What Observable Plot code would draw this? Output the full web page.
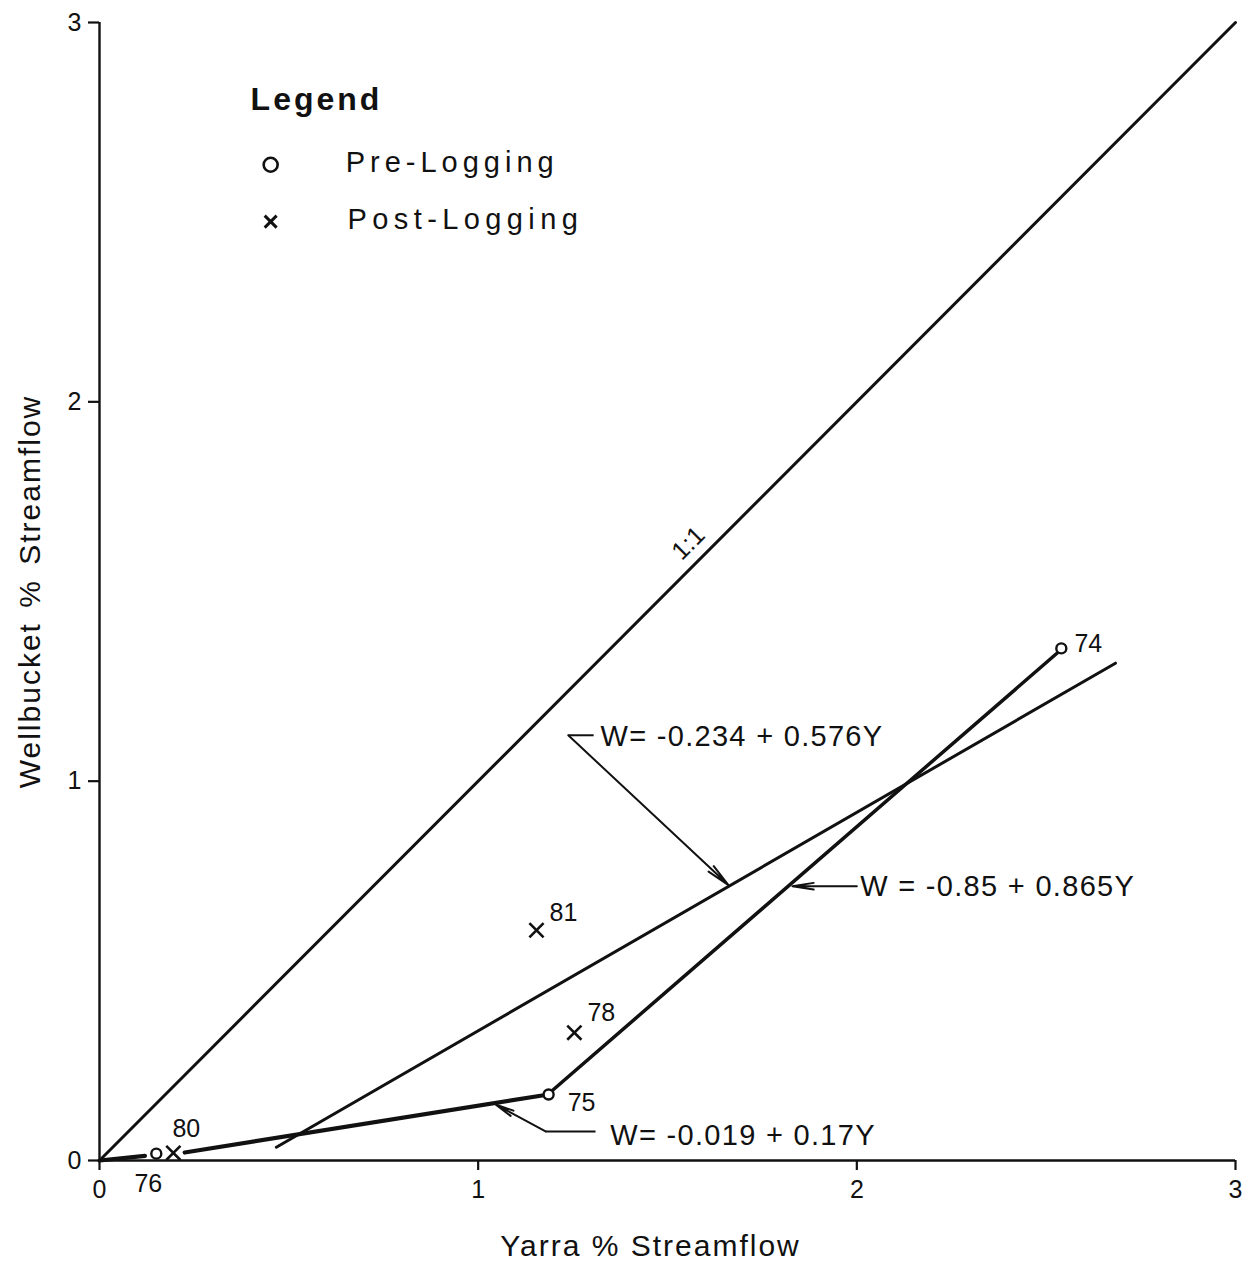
<!DOCTYPE html>
<html>
<head>
<meta charset="utf-8">
<script src="https://cdn.jsdelivr.net/npm/d3@7"></script>
<script src="https://cdn.jsdelivr.net/npm/@observablehq/plot@0.6"></script>
<style>
  html, body { margin: 0; padding: 0; background: #fff; }
  svg { display: block; }
</style>
</head>
<body>
<div id="chart"></div>
<script>
// ---- data ----
const years      = ["76", "80", "81", "78", "75", "74"];
const yarra      = [0.15, 0.195, 1.154, 1.254, 1.186, 2.54];
const wellbucket = [0.018, 0.02, 0.607, 0.337, 0.174, 1.35];
const period     = ["Pre", "Post", "Post", "Post", "Pre", "Pre"];

// fitted / reference line segments (x1, y1, x2, y2 in data units)
const lineNames = ["1:1", "W=-0.234+0.576Y", "W=-0.85+0.865Y", "W=-0.019+0.17Y a", "W=-0.019+0.17Y b"];
const lineX1 = [0, 0.467, 1.186, 0.0, 0.225];
const lineY1 = [0, 0.035, 0.176, 0.0, 0.021];
const lineX2 = [3, 2.683, 2.54, 0.12, 1.186];
const lineY2 = [3, 1.311, 1.347, 0.012, 0.174];

const eqLabels = ["W= -0.234 + 0.576Y", "W = -0.85 + 0.865Y", "W= -0.019 + 0.17Y"];
const xTicks = [0, 1, 2, 3];
const yTicks = [0, 1, 2, 3];
const legendLabels = ["Pre-Logging", "Post-Logging"];

// ---- build tables ----
const points = years.map((yr, i) => ({year: yr, x: yarra[i], y: wellbucket[i], period: period[i]}));
const segs = lineNames.map((n, i) => ({name: n, x1: lineX1[i], y1: lineY1[i], x2: lineX2[i], y2: lineY2[i]}));
const seg = (names) => segs.filter(d => names.includes(d.name));

const labelOffset = {"76": [-8, 30], "80": [13, -24], "81": [27, -17], "78": [27, -20], "75": [33, 9], "74": [27, -4]};

const FONT = "Liberation Sans, Arial, Helvetica, sans-serif";
const INK = "#111";

const chart = Plot.plot({
  width: 1252,
  height: 1265,
  marginLeft: 99,
  marginRight: 17,
  marginTop: 22,
  marginBottom: 105,
  style: {fontFamily: FONT, background: "#fff", color: INK},
  x: {domain: [0, 3], axis: null},
  y: {domain: [0, 3], axis: null},
  marks: [
    // axes
    Plot.ruleY([0], {x1: 0, x2: 3, stroke: INK, strokeWidth: 2.4}),
    Plot.ruleX([0], {y1: 0, y2: 3, stroke: INK, strokeWidth: 2.4}),
    Plot.axisX({ticks: xTicks, tickSize: 10, tickPadding: 10, tickFormat: d3.format("d"), label: null, strokeWidth: 2.2}),
    Plot.axisY({ticks: yTicks, tickSize: 11, tickPadding: 7, tickFormat: d3.format("d"), label: null, strokeWidth: 2.2}),
    // axis titles
    Plot.text(["Yarra % Streamflow"], {frameAnchor: "bottom", textAnchor: "middle", lineAnchor: "middle", dx: -17, dy: 86, fontSize: 30, fill: INK}),
    Plot.text(["Wellbucket % Streamflow"], {frameAnchor: "left", textAnchor: "middle", lineAnchor: "middle", dx: -69, rotate: -90, fontSize: 30, fill: INK}),

    // line segments
    Plot.link(seg(["1:1", "W=-0.234+0.576Y"]), {x1: "x1", y1: "y1", x2: "x2", y2: "y2", stroke: INK, strokeWidth: 3, strokeLinecap: "round"}),
    Plot.link(seg(["W=-0.85+0.865Y"]), {x1: "x1", y1: "y1", x2: "x2", y2: "y2", stroke: INK, strokeWidth: 3.5, strokeLinecap: "round"}),
    Plot.link(seg(["W=-0.019+0.17Y a", "W=-0.019+0.17Y b"]), {x1: "x1", y1: "y1", x2: "x2", y2: "y2", stroke: INK, strokeWidth: 4.2, strokeLinecap: "round"}),

    // 1:1 label
    Plot.text(["1:1"], {x: 1.555, y: 1.627, rotate: -45, fontSize: 25, fill: INK}),

    // equation labels
    Plot.text([eqLabels[0]], {x: 1.323, y: 1.116, textAnchor: "start", fontSize: 29, fill: INK}),
    Plot.text([eqLabels[1]], {x: 2.009, y: 0.723, textAnchor: "start", fontSize: 29, fill: INK}),
    Plot.text([eqLabels[2]], {x: 1.349, y: 0.066, textAnchor: "start", fontSize: 29, fill: INK}),

    // leaders
    Plot.link([0], {x1: 1.238, y1: 1.121, x2: 1.305, y2: 1.121, stroke: INK, strokeWidth: 2}),
    Plot.arrow([0], {x1: 1.238, y1: 1.121, x2: 1.661, y2: 0.726, stroke: INK, strokeWidth: 2, headLength: 18, headAngle: 18}),
    Plot.arrow([0], {x1: 2.0, y1: 0.723, x2: 1.83, y2: 0.723, stroke: INK, strokeWidth: 2, headLength: 18, headAngle: 18}),
    Plot.link([0], {x1: 1.31, y1: 0.0765, x2: 1.178, y2: 0.0765, stroke: INK, strokeWidth: 2}),
    Plot.arrow([0], {x1: 1.178, y1: 0.0765, x2: 1.046, y2: 0.148, stroke: INK, strokeWidth: 2, headLength: 18, headAngle: 18}),

    // points
    Plot.dot(points.filter(d => d.period === "Pre"), {x: "x", y: "y", r: 5, stroke: INK, strokeWidth: 2.4, fill: "#fff"}),
    Plot.dot(points.filter(d => d.period === "Post"), {x: "x", y: "y", symbol: "times", r: 6.5, stroke: INK, strokeWidth: 2.6}),
    Plot.text(points, {x: "x", y: "y", text: "year", fontSize: 25, fill: INK}),

    // legend
    Plot.text(["Legend"], {x: 0.399, y: 2.797, textAnchor: "start", fontSize: 32, fontWeight: "bold", fill: INK}),
    Plot.dot([0], {x: 0.452, y: 2.625, r: 7, stroke: INK, strokeWidth: 2.6, fill: "#fff"}),
    Plot.dot([0], {x: 0.452, y: 2.475, symbol: "times", r: 5.5, stroke: INK, strokeWidth: 3}),
    Plot.text([legendLabels[0]], {x: 0.650, y: 2.630, textAnchor: "start", fontSize: 29, fill: INK}),
    Plot.text([legendLabels[1]], {x: 0.655, y: 2.480, textAnchor: "start", fontSize: 29, fill: INK})
  ]
});

// text styling that Plot's options do not cover (letter spacing, axis label size) and per-label offsets
const spacing = {
  "Legend": 3, "Pre-Logging": 5, "Post-Logging": 5.4,
  "Yarra % Streamflow": 2, "Wellbucket % Streamflow": 2,
  "W= -0.234 + 0.576Y": 1.3, "W = -0.85 + 0.865Y": 1.3, "W= -0.019 + 0.17Y": 1.3
};
d3.select(chart).selectAll("text").each(function() {
  const t = this.textContent;
  if (/^[0-3]$/.test(t)) {
    this.setAttribute("font-size", 25);
    this.style.fontSize = "25px";
  }
  if (spacing[t] != null) {
    this.style.letterSpacing = spacing[t] + "px";
    if (t === "Wellbucket % Streamflow") this.style.wordSpacing = "4px";
  }
  const inPointLabels = this.parentNode && this.parentNode.getAttribute("aria-label") === "text";
  if (labelOffset[t] && inPointLabels) {
    const [dx, dy] = labelOffset[t];
    const tr = this.getAttribute("transform") || "";
    this.setAttribute("transform", tr + ` translate(${dx},${dy})`);
  }
});

document.getElementById("chart").appendChild(chart);
</script>
</body>
</html>
